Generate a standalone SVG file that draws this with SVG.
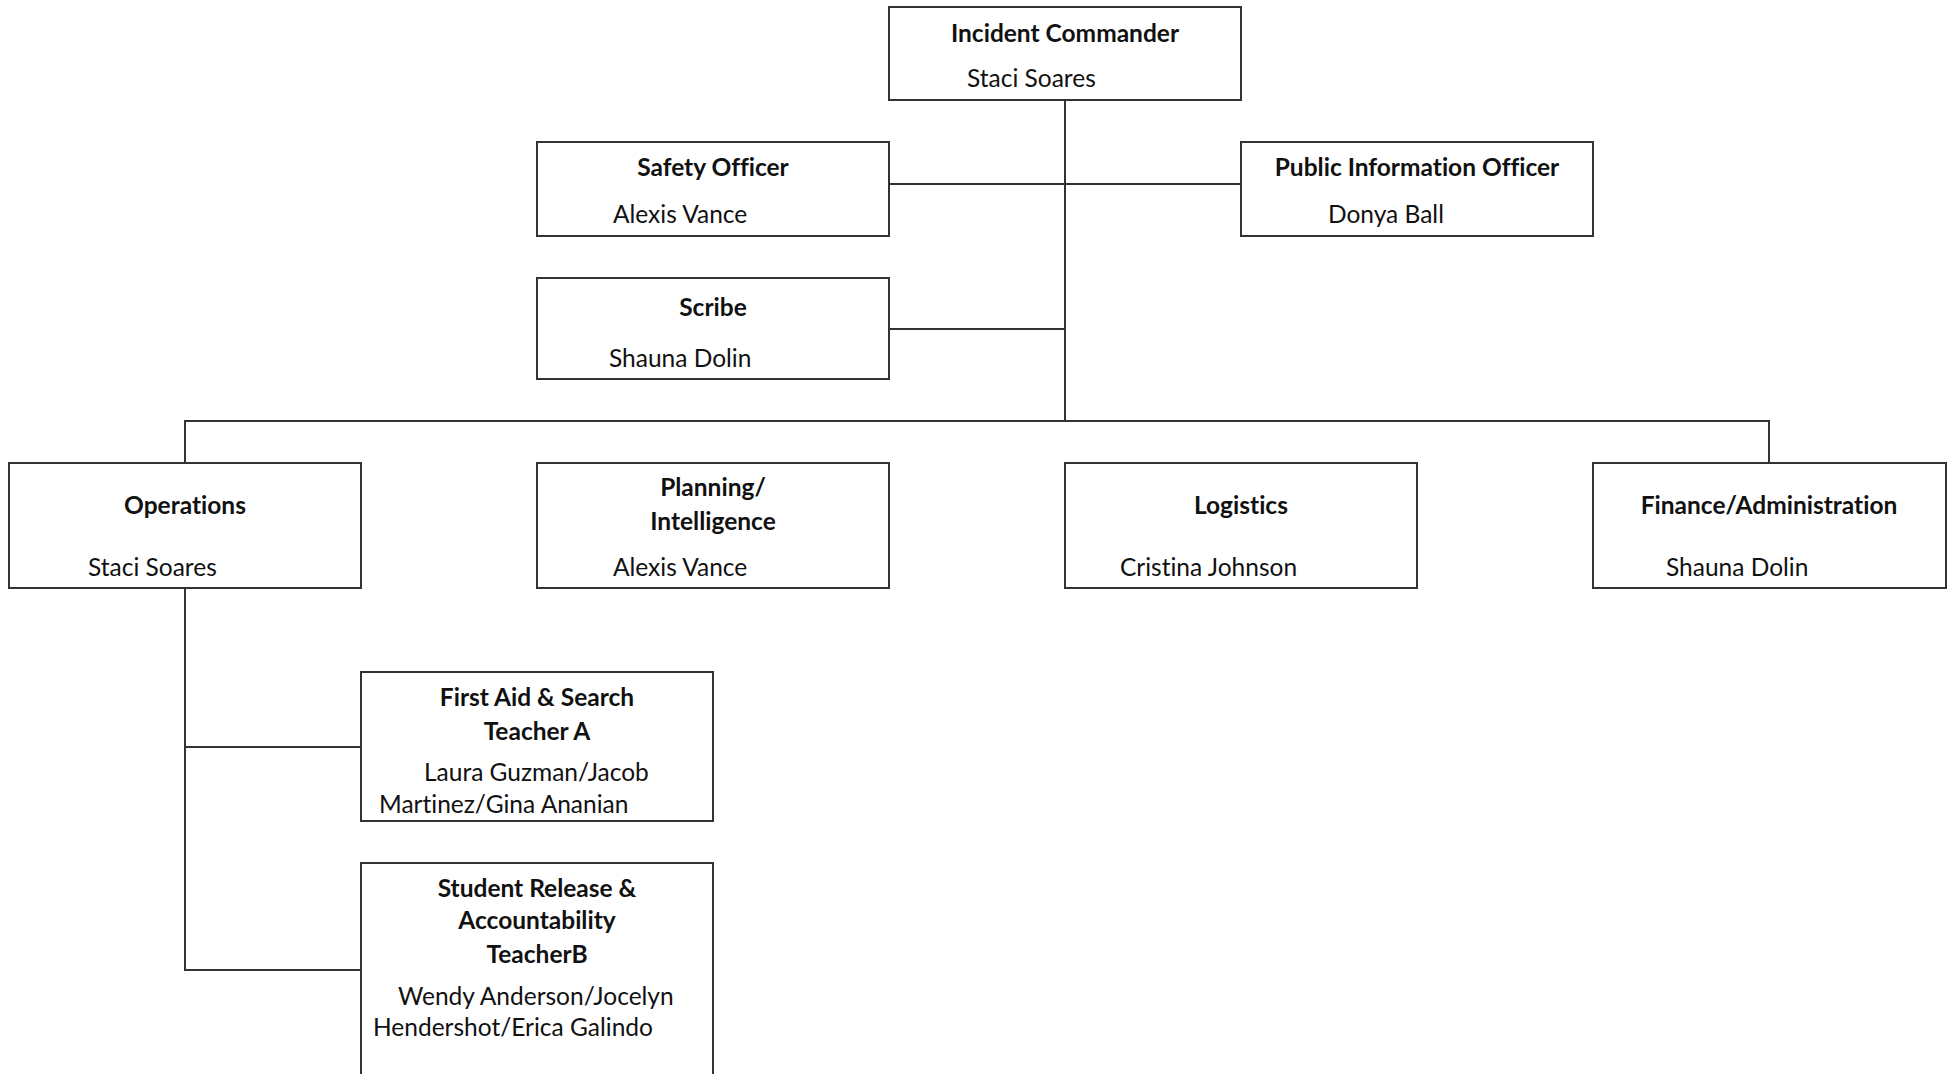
<svg xmlns="http://www.w3.org/2000/svg" width="1949" height="1074" viewBox="0 0 1949 1074">
  <style>
    .box { fill: #ffffff; stroke: #333333; stroke-width: 2; }
    .wire { fill: none; stroke: #333333; stroke-width: 2; }
    text { font-family: Lato, "Open Sans", sans-serif; font-size: 24.5px; fill: #111111; font-variant-ligatures: none; }
    .title { font-weight: bold; text-anchor: middle; }
  </style>
  <rect width="1949" height="1074" fill="#ffffff"/>

  <!-- reporting lines -->
  <g id="connectors">
    <path class="wire" d="M1065 100 V421"/>
    <path class="wire" d="M889 184 H1241"/>
    <path class="wire" d="M889 329 H1065"/>
    <path class="wire" d="M185 463 V421 H1769 V463"/>
    <path class="wire" d="M185 588 V970 H361"/>
    <path class="wire" d="M185 747 H361"/>
  </g>

  <g id="incident-commander">
    <rect class="box" x="889" y="7" width="352" height="93"/>
    <text class="title" x="1065" y="42">Incident Commander</text>
    <text x="967" y="87">Staci Soares</text>
  </g>

  <g id="safety-officer">
    <rect class="box" x="537" y="142" width="352" height="94"/>
    <text class="title" x="713" y="176">Safety Officer</text>
    <text x="613" y="223">Alexis Vance</text>
  </g>

  <g id="public-information-officer">
    <rect class="box" x="1241" y="142" width="352" height="94"/>
    <text class="title" x="1417" y="176">Public Information Officer</text>
    <text x="1328" y="223">Donya Ball</text>
  </g>

  <g id="scribe">
    <rect class="box" x="537" y="278" width="352" height="101"/>
    <text class="title" x="713" y="316">Scribe</text>
    <text x="609" y="367">Shauna Dolin</text>
  </g>

  <g id="operations">
    <rect class="box" x="9" y="463" width="352" height="125"/>
    <text class="title" x="185" y="514">Operations</text>
    <text x="88" y="576">Staci Soares</text>
  </g>

  <g id="planning-intelligence">
    <rect class="box" x="537" y="463" width="352" height="125"/>
    <text class="title" x="713" y="496">Planning/</text>
    <text class="title" x="713" y="530">Intelligence</text>
    <text x="613" y="576">Alexis Vance</text>
  </g>

  <g id="logistics">
    <rect class="box" x="1065" y="463" width="352" height="125"/>
    <text class="title" x="1241" y="514">Logistics</text>
    <text x="1120" y="576">Cristina Johnson</text>
  </g>

  <g id="finance-administration">
    <rect class="box" x="1593" y="463" width="353" height="125"/>
    <text class="title" x="1769" y="514">Finance/Administration</text>
    <text x="1666" y="576">Shauna Dolin</text>
  </g>

  <g id="first-aid-search">
    <rect class="box" x="361" y="672" width="352" height="149"/>
    <text class="title" x="537" y="706">First Aid &amp; Search</text>
    <text class="title" x="537" y="740">Teacher A</text>
    <text x="424" y="781">Laura Guzman/Jacob</text>
    <text x="379" y="813">Martinez/Gina Ananian</text>
  </g>

  <g id="student-release">
    <rect class="box" x="361" y="863" width="352" height="240"/>
    <text class="title" x="537" y="897">Student Release &amp;</text>
    <text class="title" x="537" y="929">Accountability</text>
    <text class="title" x="537" y="963">TeacherB</text>
    <text x="398" y="1005">Wendy Anderson/Jocelyn</text>
    <text x="373" y="1036">Hendershot/Erica Galindo</text>
  </g>
</svg>
